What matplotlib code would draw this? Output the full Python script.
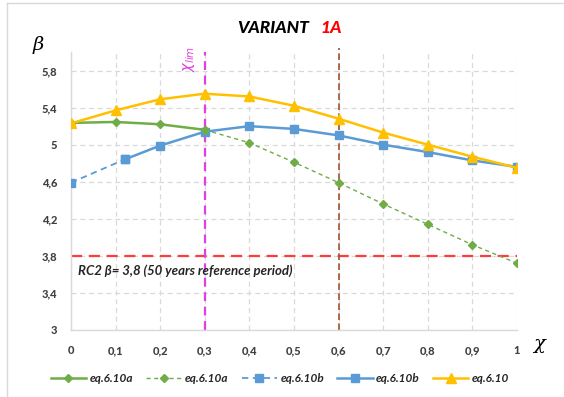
import matplotlib
matplotlib.use("Agg")
import matplotlib.pyplot as plt
from matplotlib.lines import Line2D

# ---- data ----
x_all = [0, 0.1, 0.2, 0.3, 0.4, 0.5, 0.6, 0.7, 0.8, 0.9, 1.0]
eq610 = [5.23, 5.37, 5.49, 5.55, 5.52, 5.42, 5.28, 5.13, 5.00, 4.87, 4.75]

x_a_solid = [0, 0.1, 0.2, 0.3]
eq610a_solid = [5.235, 5.245, 5.22, 5.16]
x_a_dash = [0.3, 0.4, 0.5, 0.6, 0.7, 0.8, 0.9, 1.0]
eq610a_dash = [5.16, 5.02, 4.81, 4.59, 4.36, 4.14, 3.92, 3.72]

x_b_dash = [0, 0.12]
eq610b_dash = [4.59, 4.84]
x_b_solid = [0.12, 0.2, 0.3, 0.4, 0.5, 0.6, 0.7, 0.8, 0.9, 1.0]
eq610b_solid = [4.84, 4.99, 5.14, 5.20, 5.17, 5.10, 5.00, 4.92, 4.83, 4.76]

chi_lim = 0.3
chi_brown = 0.6
beta_rc2 = 3.8

y_ticks = [3.0, 3.4, 3.8, 4.2, 4.6, 5.0, 5.4, 5.8]
y_labels = ["3", "3,4", "3,8", "4,2", "4,6", "5", "5,4", "5,8"]
x_ticks = x_all
x_labels = ["0", "0,1", "0,2", "0,3", "0,4", "0,5", "0,6", "0,7", "0,8", "0,9", "1"]
legend_labels = ["eq.6.10a", "eq.6.10a", "eq.6.10b", "eq.6.10b", "eq.6.10"]

# ---- style ----
W, H = 564, 397
GREEN = "#70AD47"
BLUE = "#5B9BD5"
YELLOW = "#FFC000"
RED = "#FF3B3B"
MAGENTA = "#E040E0"
BROWN = "#A0522D"
GRID = "#D9D9D9"
TXT = "#404040"
FONT = "Lato"

fig = plt.figure(figsize=(W / 100, H / 100), dpi=100)
ax = fig.add_axes([71 / W, 1 - 330 / H, (517 - 71) / W, (330 - 52) / H])

ax.set_xlim(0, 1)
ax.set_ylim(3, 6)

ax.set_yticks(y_ticks)
ax.set_yticklabels(y_labels)
ax.set_xticks(x_ticks)
ax.set_xticklabels(x_labels)
for lab in ax.get_xticklabels() + ax.get_yticklabels():
    lab.set_fontfamily(FONT)
    lab.set_fontweight("black")
    lab.set_fontsize(8)
    lab.set_color(TXT)
ax.tick_params(axis="both", length=0)
ax.tick_params(axis="y", pad=10)
ax.tick_params(axis="x", pad=11)

ax.grid(True, color=GRID, linestyle=(0, (4, 3)), linewidth=0.9)
ax.set_axisbelow(True)
for s in ["top", "right"]:
    ax.spines[s].set_visible(False)
for s in ["left", "bottom"]:
    ax.spines[s].set_color(GRID)
    ax.spines[s].set_linewidth(1.0)

# reference lines
ax.axhline(beta_rc2, color=RED, linestyle=(0, (5, 3)), linewidth=1.6, zorder=2)
ax.plot([chi_lim, chi_lim], [3, 6.0], color=MAGENTA, linestyle=(0, (4, 2.5)),
        linewidth=1.6, zorder=2, clip_on=False)
ax.plot([chi_brown, chi_brown], [3, 6.045], color=BROWN, linestyle=(0, (4, 2)),
        linewidth=1.2, zorder=2, clip_on=False)

# series
ax.plot(x_a_dash, eq610a_dash, color=GREEN, linestyle=(0, (3, 2.5)), linewidth=1.0,
        marker="D", markersize=4.5, zorder=3)
ax.plot(x_b_dash, eq610b_dash, color=BLUE, linestyle=(0, (3.5, 2.5)), linewidth=1.3,
        marker="s", markersize=5.5, zorder=3)
ax.plot(x_b_solid, eq610b_solid, color=BLUE, linewidth=1.8,
        marker="s", markersize=5.5, zorder=4)
ax.plot(x_a_solid, eq610a_solid, color=GREEN, linewidth=1.8,
        marker="D", markersize=4.5, zorder=4)
ax.plot(x_all, eq610, color=YELLOW, linewidth=1.8,
        marker="^", markersize=6.5, zorder=5)

# texts
fig.text(309 / W, 1 - 28 / H, "VARIANT", ha="right", va="center",
         fontfamily=FONT, fontweight="black", fontstyle="italic", fontsize=12.5, color="black")
fig.text(320 / W, 1 - 28 / H, "1A", ha="left", va="center",
         fontfamily=FONT, fontweight="black", fontstyle="italic", fontsize=12.5, color="#FF0000")

fig.text(38 / W, 1 - 45 / H, "β", ha="center", va="center",
         fontfamily="DejaVu Serif", fontstyle="italic", fontsize=14, color="black")
fig.text(539 / W, 1 - 344 / H, "χ", ha="center", va="center",
         fontfamily="DejaVu Serif", fontstyle="italic", fontsize=14, color="black")

fig.text(189 / W, 1 - 59 / H, r"$\chi_{lim}$", ha="center", va="center", rotation=90,
         fontsize=10.5, color=MAGENTA)

fig.text(78 / W, 1 - 271 / H, "RC2 β= 3,8 (50 years reference period)", ha="left",
         va="center", fontfamily=[FONT, "DejaVu Sans"], fontweight="bold",
         fontstyle="italic", fontsize=9.5, color="#262626")

# legend
handles = [
    Line2D([], [], color=GREEN, linewidth=1.8, marker="D", markersize=4.5),
    Line2D([], [], color=GREEN, linewidth=1.0, linestyle=(0, (3, 2.5)), marker="D", markersize=4.5),
    Line2D([], [], color=BLUE, linewidth=1.3, linestyle=(0, (3.5, 2.5)), marker="s", markersize=5.5),
    Line2D([], [], color=BLUE, linewidth=1.8, marker="s", markersize=5.5),
    Line2D([], [], color=YELLOW, linewidth=1.8, marker="^", markersize=6.5),
]
leg = fig.legend(handles, legend_labels, loc="center", bbox_to_anchor=(280 / W, 1 - 379 / H),
                 ncol=5, frameon=False, handlelength=3.0, handletextpad=0.3,
                 columnspacing=1.1, prop={"family": FONT, "weight": "bold",
                                          "style": "italic", "size": 8.5})
for t in leg.get_texts():
    t.set_color("#262626")

# outer border (top and left edges visible)
fig.add_artist(Line2D([7 / W, 1], [1 - 3 / H, 1 - 3 / H], color=GRID, linewidth=1.0,
                      transform=fig.transFigure))
fig.add_artist(Line2D([7 / W, 7 / W], [0, 1 - 3 / H], color=GRID, linewidth=1.0,
                      transform=fig.transFigure))

fig.savefig("out.png", dpi=100)
